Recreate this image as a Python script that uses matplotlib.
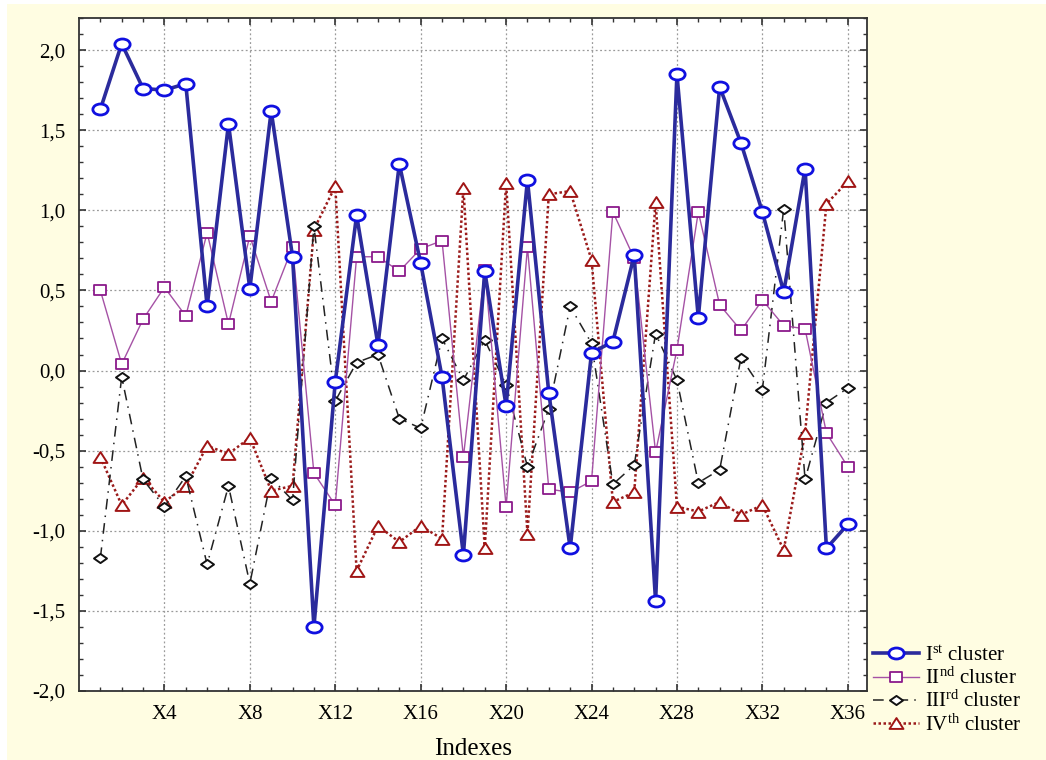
import matplotlib
matplotlib.use('Agg')
import matplotlib.pyplot as plt
import numpy as np
from matplotlib.path import Path
from matplotlib.patches import Rectangle

# Gia tri doc tu hinh goc (36 chi so X1..X36).
indexes = list(range(1, 37))
cluster1 = [1.63, 2.04, 1.76, 1.75, 1.79, 0.40, 1.54, 0.51, 1.62, 0.71,
            -1.60, -0.07, 0.97, 0.16, 1.29, 0.67, -0.04, -1.15, 0.62, -0.22,
            1.19, -0.14, -1.11, 0.11, 0.18, 0.72, -1.44, 1.85, 0.33, 1.77,
            1.42, 0.99, 0.49, 1.26, -1.11, -0.96]
cluster2 = [0.50, 0.04, 0.32, 0.52, 0.34, 0.86, 0.29, 0.84, 0.43, 0.77,
            -0.64, -0.84, 0.71, 0.71, 0.62, 0.76, 0.81, -0.54, 0.63, -0.85,
            0.77, -0.74, -0.76, -0.69, 0.99, 0.70, -0.51, 0.13, 0.99, 0.41,
            0.25, 0.44, 0.28, 0.26, -0.39, -0.60]
cluster3 = [-1.17, -0.04, -0.68, -0.85, -0.66, -1.21, -0.72, -1.33, -0.67, -0.81,
            0.90, -0.19, 0.05, 0.10, -0.30, -0.36, 0.20, -0.06, 0.19, -0.09,
            -0.60, -0.24, 0.40, 0.17, -0.71, -0.59, 0.23, -0.06, -0.70, -0.62,
            0.08, -0.12, 1.01, -0.68, -0.20, -0.11]
cluster4 = [-0.54, -0.84, -0.67, -0.82, -0.72, -0.47, -0.52, -0.42, -0.75, -0.72,
            0.88, 1.15, -1.25, -0.97, -1.07, -0.97, -1.05, 1.14, -1.11, 1.17,
            -1.02, 1.10, 1.12, 0.69, -0.82, -0.76, 1.05, -0.85, -0.88, -0.82,
            -0.90, -0.84, -1.12, -0.39, 1.04, 1.18]
labels = [r'$\mathrm{I^{st}}$ cluster', r'$\mathrm{II^{nd}}$ cluster',
          r'$\mathrm{III^{rd}}$ cluster', r'$\mathrm{IV^{th}}$ cluster']

plt.rcParams['font.family'] = ['Liberation Serif', 'DejaVu Serif']
plt.rcParams['mathtext.fontset'] = 'custom'
plt.rcParams['mathtext.rm'] = 'Liberation Serif'


# Marker hoi bet theo chieu doc giong hinh goc.
def squash(path, ry):
    return Path(path.vertices * np.array([1.0, ry]), path.codes)


ellipse = squash(Path.unit_circle(), 0.72)
square = Path([(-1, -1), (1, -1), (1, 1), (-1, 1), (-1, -1)], closed=True)
square = squash(square, 0.83)
diamond = squash(Path([(0, -1), (1, 0), (0, 1), (-1, 0), (0, -1)], closed=True), 0.7)
triangle = squash(Path([(-1, -1), (1, -1), (0, 1), (-1, -1)], closed=True), 0.78)

fig = plt.figure(figsize=(10.46, 7.6), dpi=100, facecolor='white')
fig.patches.append(Rectangle((7 / 1046, 0), 1, 1 - 4 / 760, transform=fig.transFigure,
                             facecolor='#FFFDE2', edgecolor='none', zorder=-10))
ax = fig.add_axes([79 / 1046, 1 - 691 / 760, 788 / 1046, 673 / 760])
ax.set_facecolor('white')

ax.plot(indexes, cluster4, color='#9B1B1B', lw=1.8, linestyle=(0, (1, 1)),
        marker=triangle, ms=10, mfc='white', mec='#A01515', mew=1.4, label=labels[3], zorder=2)
ax.plot(indexes, cluster3, color='#222222', lw=1.1, linestyle=(0, (7, 4, 1, 4)),
        marker=diamond, ms=9.4, mfc='white', mec='#111111', mew=1.4, label=labels[2], zorder=3)
ax.plot(indexes, cluster2, color='#A552A5', lw=1.0,
        marker=square, ms=8.6, mfc='white', mec='#8B1A8B', mew=1.3, label=labels[1], zorder=4)
ax.plot(indexes, cluster1, color='#2B2B9C', lw=2.6,
        marker=ellipse, ms=11, mfc='white', mec='#1010E0', mew=2.0, label=labels[0], zorder=5)

ax.set_xlim(0, 36.9)
ax.set_ylim(-2.0, 2.2)
ax.set_xticks(range(4, 37, 4))
ax.set_xticklabels(['X%d' % i for i in range(4, 37, 4)])
ax.set_xticks(indexes, minor=True)
ax.set_yticks(np.arange(-2.0, 2.01, 0.5))
ax.set_yticklabels([('%.1f' % v).replace('.', ',') for v in np.arange(-2.0, 2.01, 0.5)])
ax.set_yticks(np.arange(-2.0, 2.21, 0.1), minor=True)
ax.tick_params(which='both', direction='in', top=True, right=True, labelsize=15, color='#333333')
ax.tick_params(which='major', length=5, width=1.2)
ax.tick_params(which='minor', length=3, width=1.0)
ax.tick_params(axis='x', pad=10)
ax.tick_params(axis='y', pad=10)
ax.grid(True, which='major', linestyle=(0, (1.5, 2)), color='#9A9A9A', lw=0.9)
for s in ax.spines.values():
    s.set_color('#333333')
    s.set_linewidth(1.3)

ax.set_xlabel('Indexes', fontsize=18, labelpad=10)

handles, labs = ax.get_legend_handles_labels()
ax.legend(handles[::-1], labs[::-1], loc='upper left', bbox_to_anchor=(873 / 1046, 1 - 646 / 760),
          bbox_transform=fig.transFigure, frameon=False, fontsize=15, handlelength=2.2,
          handletextpad=0.3, labelspacing=0.1, borderpad=0, borderaxespad=0)

fig.savefig('out.png', dpi=100, facecolor=fig.get_facecolor())
